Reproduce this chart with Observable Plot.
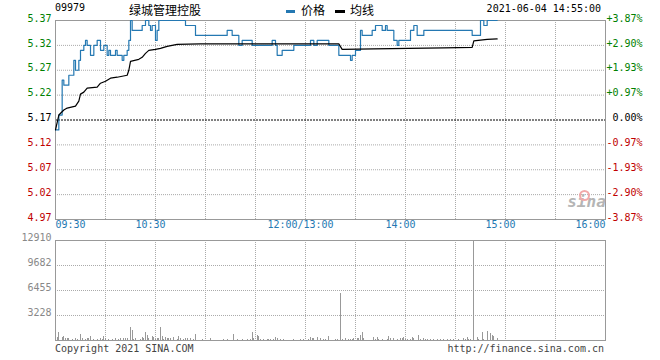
<!DOCTYPE html>
<html><head><meta charset="utf-8">
<script src="https://cdn.jsdelivr.net/npm/d3@7"></script>
<script src="https://cdn.jsdelivr.net/npm/@observablehq/plot@0.6"></script>
<style>
html,body{margin:0;padding:0;background:#fff;}
#wrap{position:relative;width:660px;height:360px;overflow:hidden;background:#fff;font-family:"DejaVu Sans Mono",monospace;font-size:10px;color:#000;}
#wrap svg{position:absolute;left:0;overflow:visible;}
.t{position:absolute;white-space:nowrap;line-height:12px;}
.cjk{font-family:"Noto Sans CJK SC",sans-serif;font-size:12px;line-height:16px;}
.bar{position:absolute;height:3px;}
</style></head><body><div id="wrap"></div>
<script>
// ---- data ----
const stockCode = "09979";
const stockName = "绿城管理控股";
const stampText = "2021-06-04 14:55:00";
const prevClose = 5.17;
const priceTicks = [5.37, 5.32, 5.27, 5.22, 5.17, 5.12, 5.07, 5.02, 4.97];
const pctLabels = ["+3.87%", "+2.90%", "+1.93%", "+0.97%", "0.00%", "-0.97%", "-1.93%", "-2.90%", "-3.87%"];
const xLabelTimes = ["09:30", "10:30", "12:00", "14:00", "15:00", "16:00"];
const xLabelTexts = ["09:30", "10:30", "12:00/13:00", "14:00", "15:00", "16:00"];
const volTicks = [12910, 9682, 6455, 3228];

const priceTimes = ["09:30","09:32","09:34","09:35","09:38","09:41","09:42","09:44","09:45","09:47","09:48","09:49","09:51","09:53","09:55","09:57","09:59","10:01","10:02","10:03","10:06","10:07","10:10","10:11","10:13","10:14","10:15","10:16","10:22","10:24","10:26","10:27","10:28","10:30","10:31","10:32","10:48","10:54","11:13","11:16","11:20","11:22","11:28","11:40","11:42","11:43","11:46","11:53","13:03","13:05","13:07","13:14","13:20","13:27","13:28","13:30","13:33","13:34","13:40","13:42","13:46","13:48","13:49","13:53","13:55","13:56","14:03","14:05","14:07","14:11","14:40","14:45","14:47","14:49","14:55"];
const priceValues = [5.15,5.18,5.25,5.24,5.26,5.29,5.27,5.29,5.31,5.32,5.33,5.32,5.30,5.32,5.33,5.31,5.32,5.30,5.31,5.30,5.31,5.30,5.29,5.30,5.31,5.33,5.37,5.35,5.36,5.37,5.36,5.35,5.36,5.33,5.35,5.37,5.36,5.34,5.35,5.34,5.32,5.33,5.32,5.33,5.32,5.30,5.31,5.32,5.33,5.32,5.33,5.32,5.30,5.29,5.30,5.31,5.35,5.34,5.35,5.36,5.35,5.36,5.35,5.33,5.32,5.33,5.35,5.36,5.34,5.35,5.34,5.37,5.36,5.37,5.37];

const avgTimes = ["09:30","09:32","09:35","09:37","09:42","09:44","09:45","09:47","09:49","09:55","09:57","10:00","10:03","10:07","10:13","10:14","10:15","10:20","10:22","10:24","10:26","10:30","10:33","10:37","10:43","10:57","13:20","13:22","13:41","14:23","14:40","14:41","14:49","14:55"];
const avgValues = [5.15,5.18,5.19,5.194,5.198,5.208,5.222,5.226,5.234,5.236,5.244,5.248,5.254,5.256,5.26,5.27,5.288,5.292,5.296,5.304,5.31,5.312,5.314,5.318,5.322,5.323,5.323,5.312,5.313,5.315,5.316,5.329,5.332,5.333];

const volTimes = ["09:31","09:32","09:34","09:35","09:36","09:37","09:38","09:40","09:42","09:43","09:45","09:46","09:48","09:49","09:50","09:51","09:53","09:55","09:57","09:58","09:59","10:00","10:02","10:04","10:06","10:08","10:09","10:11","10:12","10:13","10:15","10:16","10:17","10:18","10:21","10:22","10:23","10:24","10:25","10:26","10:28","10:29","10:30","10:31","10:32","10:33","10:34","10:35","10:36","10:37","10:38","10:39","10:41","10:43","10:44","10:45","10:47","10:48","10:49","10:51","10:53","10:54","10:58","11:03","11:11","11:13","11:17","11:19","11:22","11:25","11:27","11:28","11:29","11:31","11:32","11:33","11:35","11:37","11:38","11:39","11:41","11:42","11:43","11:45","11:47","11:53","11:57","11:59","13:02","13:03","13:04","13:05","13:07","13:09","13:11","13:12","13:14","13:18","13:19","13:21","13:22","13:24","13:26","13:27","13:28","13:29","13:31","13:32","13:33","13:34","13:35","13:41","13:42","13:43","13:44","13:46","13:49","13:50","13:51","13:53","13:55","13:57","13:58","13:59","14:00","14:01","14:03","14:04","14:05","14:08","14:09","14:11","14:12","14:13","14:15","14:17","14:19","14:21","14:23","14:25","14:27","14:29","14:32","14:35","14:36","14:37","14:38","14:39","14:41","14:43","14:44","14:46","14:47","14:49","14:51","14:52","14:53","14:55"];
const volValues = [350,990,390,470,300,220,300,170,300,170,820,220,170,220,300,560,130,170,260,170,470,300,170,170,220,170,260,220,220,220,1720,1330,170,260,170,390,220,990,690,260,470,390,130,220,260,1720,470,170,390,300,260,220,350,170,560,300,170,220,300,220,170,820,130,260,130,130,820,170,130,170,170,1070,220,650,560,170,130,130,170,130,130,430,300,130,170,170,130,170,130,430,220,220,390,220,170,170,470,130,130,6130,130,260,170,130,130,220,260,300,690,990,220,390,170,390,130,170,170,560,260,260,170,220,260,350,170,130,130,390,220,690,170,260,170,130,130,130,130,130,130,130,130,130,130,220,170,390,130,170,12910,390,130,990,170,1200,900,690,470,220];

// ---- helpers ----
function toMin(t){ const [h, m] = t.split(":").map(Number); let v = h * 60 + m - 570; if (v > 150) v -= 60; return v; }
const priceRows = priceTimes.map((t, i) => ({m: toMin(t), v: priceValues[i]}));
const avgRows = avgTimes.map((t, i) => ({m: toMin(t), v: avgValues[i]}));
const volRows = volTimes.map((t, i) => ({m: toMin(t), v: volValues[i]}));
const gridMins = d3.range(30, 330, 30);
const tickColor = v => Math.abs(v - prevClose) < 1e-9 ? "#000" : v > prevClose ? "#008000" : "#c00000";
const BLUE = "#2478b2";
const GRID = {stroke: "#aaa", strokeDasharray: "1,1"};
const FONT = "DejaVu Sans Mono";

const wrap = document.getElementById("wrap");

// ---- price panel ----
const last = xLabelTimes.length - 1;
const priceChart = Plot.plot({
  width: 660, height: 236,
  marginLeft: 55, marginRight: 55, marginTop: 20, marginBottom: 17,
  x: {domain: [0, 330], axis: null},
  y: {domain: [4.97, 5.37], axis: null},
  style: {background: "transparent", fontFamily: FONT, fontSize: "10px", overflow: "visible"},
  marks: [
    Plot.ruleX(gridMins, {x: d => d, ...GRID}),
    Plot.ruleY(priceTicks.filter(v => v !== priceTicks[0] && v !== priceTicks[priceTicks.length - 1] && v !== prevClose), {y: d => d, ...GRID}),
    Plot.ruleY([prevClose], {y: d => d, stroke: "#000", strokeDasharray: "2,1"}),
    Plot.frame({stroke: "#999"}),
    Plot.text(["sina"], {frameAnchor: "bottom-right", dx: -19, dy: -13, textAnchor: "middle", fontSize: 16, fontStyle: "italic", fontWeight: "bold", fill: "#b5b5b5"}),
    Plot.dot([0], {frameAnchor: "bottom-right", dx: -21, dy: -24, r: 4.5, stroke: "#f2a8a8", strokeWidth: 2, fill: "none"}),
    Plot.line(priceRows, {x: "m", y: "v", stroke: BLUE, strokeWidth: 1.2, curve: "step-after"}),
    Plot.line(avgRows, {x: "m", y: "v", stroke: "#000", strokeWidth: 1.2}),
    Plot.text(priceTicks, {y: d => d, frameAnchor: "left", dx: -4, dy: -2, textAnchor: "end", text: d => d.toFixed(2), fill: tickColor}),
    Plot.text(priceTicks, {y: d => d, frameAnchor: "right", dx: 37, dy: -2, textAnchor: "end", text: (d, i) => pctLabels[i], fill: tickColor}),
    Plot.text(xLabelTimes.slice(0, 1), {x: toMin, frameAnchor: "bottom", dy: 8, textAnchor: "start", text: (d, i) => xLabelTexts[0], fill: BLUE}),
    Plot.text(xLabelTimes.slice(1, last), {x: toMin, frameAnchor: "bottom", dy: 8, dx: -5, textAnchor: "middle", text: (d, i) => xLabelTexts[i + 1], fill: BLUE}),
    Plot.text(xLabelTimes.slice(last), {x: toMin, frameAnchor: "bottom", dy: 8, textAnchor: "end", text: (d, i) => xLabelTexts[last], fill: BLUE})
  ]
});
priceChart.style.top = "0px";
wrap.appendChild(priceChart);

// ---- volume panel ----
const volChart = Plot.plot({
  width: 660, height: 120,
  marginLeft: 55, marginRight: 55, marginTop: 10, marginBottom: 10,
  x: {domain: [0, 330], axis: null},
  y: {domain: [0, volTicks[0]], axis: null},
  style: {background: "transparent", fontFamily: FONT, fontSize: "10px", overflow: "visible"},
  marks: [
    Plot.ruleX(gridMins, {x: d => d, ...GRID}),
    Plot.ruleY(volTicks.slice(1), {y: d => d, ...GRID}),
    Plot.ruleX(volRows, {x: "m", y1: 0, y2: "v", stroke: "#999", strokeWidth: 1, shapeRendering: "crispEdges"}),
    Plot.frame({stroke: "#999"}),
    Plot.text(volTicks, {y: d => d, frameAnchor: "left", dx: -4, dy: -3, textAnchor: "end", text: d => String(d), fill: "#888"})
  ]
});
volChart.style.top = "230px";
wrap.appendChild(volChart);

// ---- header / footer text ----
function addText(txt, css, cls) {
  const d = document.createElement("div");
  d.className = cls || "t";
  d.textContent = txt;
  Object.assign(d.style, css);
  wrap.appendChild(d);
  return d;
}
addText(stockCode, {left: "55px", top: "2px"});
addText(stockName, {left: "129px", top: "2px"}, "t cjk");
const b1 = document.createElement("div"); b1.className = "bar"; Object.assign(b1.style, {left: "286px", top: "10px", width: "9px", background: BLUE}); wrap.appendChild(b1);
addText("价格", {left: "301px", top: "2px"}, "t cjk");
const b2 = document.createElement("div"); b2.className = "bar"; Object.assign(b2.style, {left: "335px", top: "10px", width: "10px", background: "#000"}); wrap.appendChild(b2);
addText("均线", {left: "350px", top: "2px"}, "t cjk");
addText(stampText, {right: "59px", top: "3px"});
addText("Copyright 2021 SINA.COM", {left: "55px", top: "343px", color: "#444"});
addText("http://finance.sina.com.cn", {right: "56px", top: "343px", color: "#444"});
</script></body></html>
